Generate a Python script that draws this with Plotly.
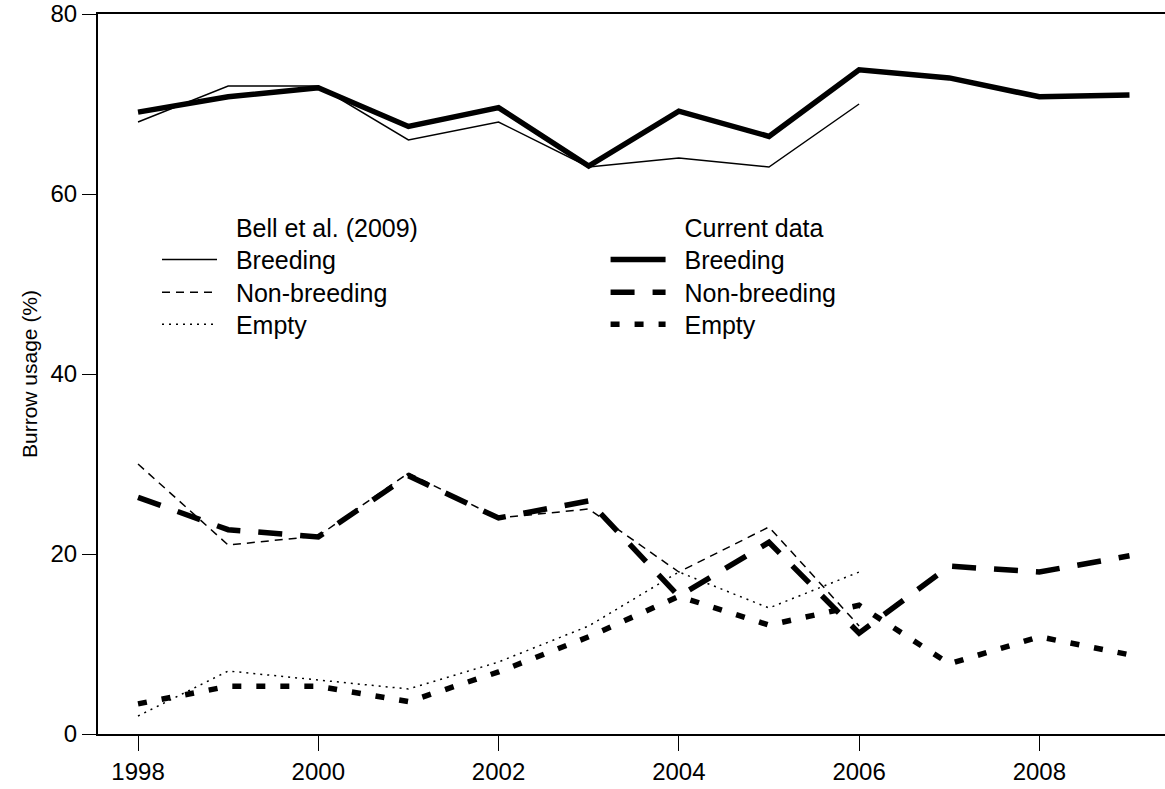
import plotly.graph_objects as go

years_bell = [1998, 1999, 2000, 2001, 2002, 2003, 2004, 2005, 2006]
years_cur = [1998, 1999, 2000, 2001, 2002, 2003, 2004, 2005, 2006, 2007, 2008, 2009]

bell_breeding = [68, 72, 72, 66, 68, 63, 64, 63, 70]
bell_nonbreeding = [30, 21, 22, 29, 24, 25, 18, 23, 12]
bell_empty = [2, 7, 6, 5, 8, 12, 18, 14, 18]

cur_breeding = [69.1, 70.8, 71.8, 67.5, 69.6, 63.1, 69.2, 66.4, 73.8, 72.9, 70.8, 71.0]
cur_nonbreeding = [26.3, 22.7, 21.9, 28.7, 24.0, 25.9, 15.3, 21.3, 11.2, 18.65, 18.0, 19.8]
cur_empty = [3.35, 5.3, 5.3, 3.6, 6.9, 10.8, 15.3, 12.1, 14.3, 7.8, 10.8, 8.8]

x_ticks = [1998, 2000, 2002, 2004, 2006, 2008]
y_ticks = [0, 20, 40, 60, 80]

FONT = "Liberation Sans, Arial, sans-serif"
THIN = 1.5
THICK = 5.5
PAD = "\u00a0\u00a0"

# (name, x-values, y-values, line style, column, row)
series = [
    ("Bell et al. (2009)", [None], [None], dict(width=0, color="rgba(0,0,0,0)"), 0, 0),
    ("Breeding", years_bell, bell_breeding, dict(color="black", width=THIN), 0, 1),
    ("Non-breeding", years_bell, bell_nonbreeding, dict(color="black", width=THIN, dash="8px,6px"), 0, 2),
    ("Empty", years_bell, bell_empty, dict(color="black", width=THIN, dash="2px,5px"), 0, 3),
    ("Current data", [None], [None], dict(width=0, color="rgba(0,0,0,0)"), 1, 0),
    ("Breeding", years_cur, cur_breeding, dict(color="black", width=THICK), 1, 1),
    ("Non-breeding", years_cur, cur_nonbreeding, dict(color="black", width=THICK, dash="24px,18px"), 1, 2),
    ("Empty", years_cur, cur_empty, dict(color="black", width=THICK, dash="9px,15px"), 1, 3),
]

# legend placement (paper coordinates)
col_x = [0.0553, 0.4757]
row_y = [0.703, 0.6587, 0.6131, 0.5689]

fig = go.Figure()
legend_layouts = {}
for i, (name, xs, ys, line, col, row) in enumerate(series):
    lid = "legend" if i == 0 else f"legend{i + 1}"
    fig.add_trace(go.Scatter(x=xs, y=ys, mode="lines", name=PAD + name, line=line,
                             legend=lid, hoverinfo="skip" if xs == [None] else None))
    legend_layouts[lid] = dict(
        x=col_x[col], y=row_y[row], xanchor="left", yanchor="middle",
        font=dict(family=FONT, size=25, color="black"), bgcolor="rgba(0,0,0,0)",
        borderwidth=0, itemwidth=55, tracegroupgap=0, itemclick=False, itemdoubleclick=False)

fig.update_layout(
    width=1165, height=789,
    margin=dict(l=98, r=0, t=11, b=55),
    paper_bgcolor="white", plot_bgcolor="white",
    font=dict(family=FONT, size=24, color="black"),
    showlegend=True,
    xaxis=dict(range=[1997.556, 2009.394], tickvals=x_ticks, ticktext=[str(v) for v in x_ticks],
               showgrid=False, zeroline=False, showline=True, linecolor="black", linewidth=2,
               mirror=True, ticks="outside", ticklen=15, tickwidth=1.3, tickcolor="black",
               ticklabeloverflow="allow",
               tickfont=dict(family=FONT, size=24, color="black")),
    yaxis=dict(range=[0, 80], tickvals=y_ticks, ticktext=[str(v) for v in y_ticks],
               showgrid=False, zeroline=False, showline=True, linecolor="black", linewidth=2,
               ticks="outside", ticklen=14, tickwidth=1.3, tickcolor="black",
               ticklabeloverflow="allow",
               tickfont=dict(family=FONT, size=24, color="black"),
               title=dict(text="Burrow usage (%)", font=dict(family=FONT, size=21, color="black"),
                          standoff=7)),
    **legend_layouts,
)

fig.write_html("out.html")
